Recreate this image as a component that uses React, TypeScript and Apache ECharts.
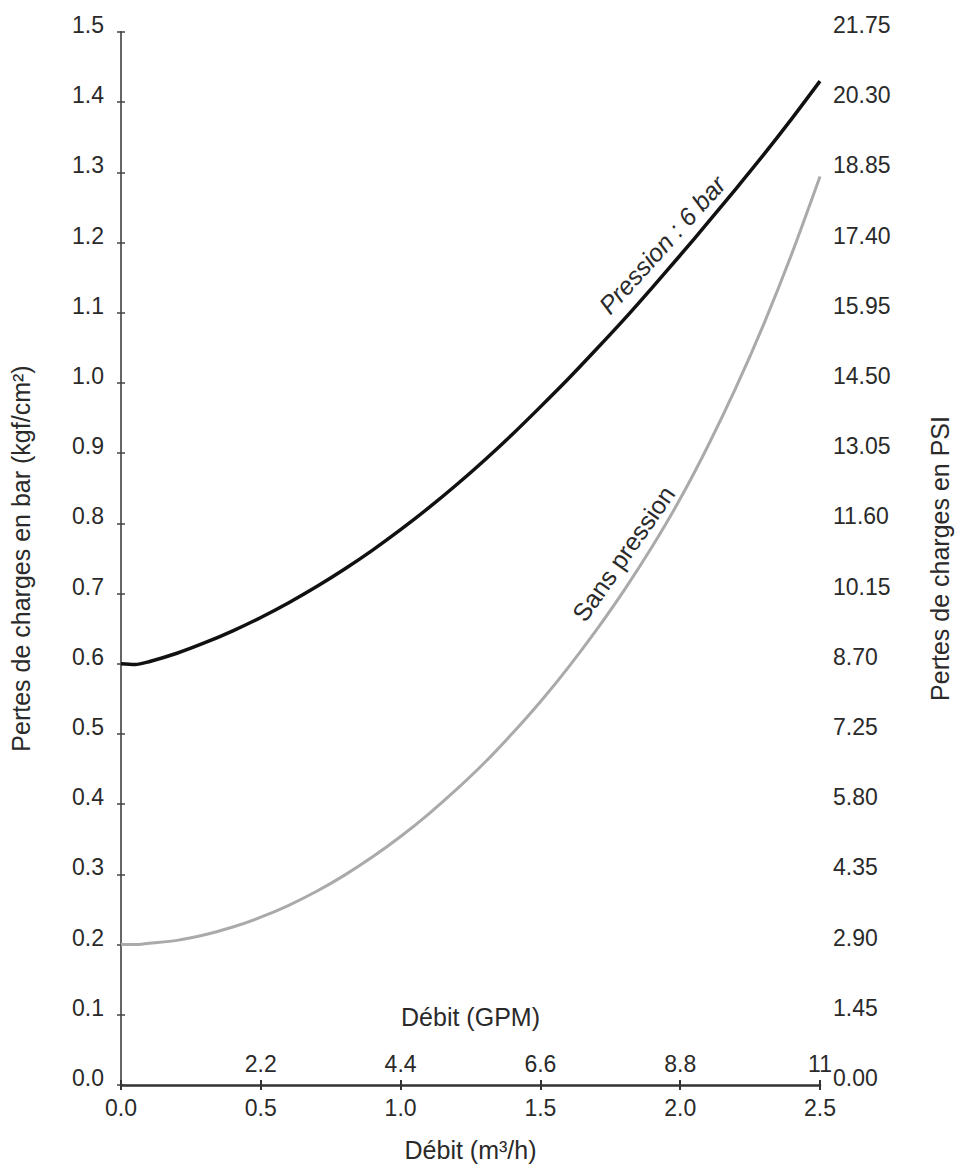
import React, { useEffect, useRef } from "react";
import * as echarts from "echarts";

// Flow in m³/h
const flowM3h = [0, 0.05, 0.1, 0.2, 0.3, 0.4, 0.5, 0.6, 0.7, 0.8, 0.9, 1.0, 1.1, 1.2, 1.3, 1.4, 1.5, 1.6, 1.7, 1.8, 1.9, 2.0, 2.1, 2.2, 2.3, 2.4, 2.5];
// Pressure loss (bar) at 6 bar
const lossPressure6 = [0.600, 0.599, 0.603, 0.615, 0.630, 0.647, 0.666, 0.687, 0.710, 0.735, 0.762, 0.791, 0.822, 0.855, 0.890, 0.927, 0.966, 1.006, 1.048, 1.091, 1.136, 1.182, 1.229, 1.277, 1.326, 1.377, 1.430];
// Pressure loss (bar) without pressure
const lossNoPressure = [0.200, 0.200, 0.202, 0.206, 0.214, 0.225, 0.239, 0.256, 0.276, 0.299, 0.325, 0.354, 0.386, 0.421, 0.459, 0.501, 0.546, 0.595, 0.648, 0.705, 0.767, 0.835, 0.911, 0.994, 1.085, 1.185, 1.294];

const barAxis = { min: 0, max: 1.5, interval: 0.1 };
const psiAxis = { min: 0, max: 21.75, interval: 1.45 };
const m3hAxis = { min: 0, max: 2.5, interval: 0.5 };
const gpmAxis = { min: 0, max: 11, interval: 2.2 };

const seriesNames = ["Pression : 6 bar", "Sans pression"];
// label anchors in data coordinates [m³/h, bar] and angle in degrees
const labelAnchors = [
  { text: "Pression : 6 bar", at: [1.935, 1.197], angle: 48, italic: true },
  { text: "Sans pression", at: [1.797, 0.757], angle: 55, italic: false },
];

const FONT = "'Liberation Sans', Arial, Helvetica, sans-serif";
const TXT = "#2a2a2a";

export default function App() {
  const ref = useRef<HTMLDivElement>(null);
  useEffect(() => {
    if (!ref.current) return;
    const chart = echarts.init(ref.current, undefined, { renderer: "svg" });
    const tickStyle = { color: TXT, fontSize: 23, fontFamily: FONT };
    const titleStyle = { color: TXT, fontSize: 25, fontFamily: FONT };
    chart.setOption({
      animation: false,
      backgroundColor: "#fff",
      textStyle: { fontFamily: FONT },
      grid: { left: 121, right: 135, top: 32, bottom: 80 },
      xAxis: [
        {
          type: "value",
          position: "bottom",
          ...m3hAxis,
          name: "Débit (m³/h)",
          nameLocation: "middle",
          nameGap: 52,
          nameTextStyle: { ...titleStyle },
          axisLine: { show: true, onZero: false, lineStyle: { color: "#333", width: 2.5 } },
          axisTick: { show: true, inside: false, length: 5, lineStyle: { color: "#333", width: 2 } },
          axisLabel: { ...tickStyle, margin: 11, formatter: (v: number) => v.toFixed(1) },
          splitLine: { show: false },
        },
        {
          type: "value",
          position: "bottom",
          ...gpmAxis,
          axisLine: { show: false, onZero: false },
          axisTick: { show: true, inside: true, length: 5, lineStyle: { color: "#333", width: 2 } },
          axisLabel: {
            ...tickStyle,
            inside: true,
            margin: 10,
            formatter: (v: number) => (v === 0 ? "" : String(Math.round(v * 10) / 10)),
          },
          splitLine: { show: false },
        },
      ],
      yAxis: [
        {
          type: "value",
          position: "left",
          ...barAxis,
          name: "Pertes de charges en bar (kgf/cm²)",
          nameLocation: "middle",
          nameRotate: 90,
          nameGap: 88,
          nameTextStyle: { ...titleStyle },
          axisLine: { show: true, lineStyle: { color: "#666", width: 2 } },
          axisTick: { show: true, inside: true, length: 4, lineStyle: { color: "#444", width: 1.5 } },
          axisLabel: {
            ...tickStyle,
            margin: 17,
            verticalAlign: "bottom",
            lineHeight: 14,
            formatter: (v: number) => v.toFixed(1),
          },
          splitLine: { show: false },
        },
        {
          type: "value",
          position: "right",
          ...psiAxis,
          name: "Pertes de charges en PSI",
          nameLocation: "middle",
          nameRotate: 90,
          nameGap: 107,
          nameTextStyle: { ...titleStyle },
          axisLine: { show: true, lineStyle: { color: "#666", width: 2 } },
          axisTick: { show: true, inside: true, length: 4, lineStyle: { color: "#444", width: 1.5 } },
          axisLabel: {
            ...tickStyle,
            margin: 13,
            verticalAlign: "bottom",
            lineHeight: 14,
            formatter: (v: number) => v.toFixed(2),
          },
          splitLine: { show: false },
        },
      ],
      series: [
        {
          name: seriesNames[0],
          type: "line",
          xAxisIndex: 0,
          yAxisIndex: 0,
          showSymbol: false,
          smooth: 0.3,
          data: flowM3h.map((x, i) => [x, lossPressure6[i]]),
          lineStyle: { color: "#111", width: 3.5 },
          z: 3,
        },
        {
          name: seriesNames[1],
          type: "line",
          xAxisIndex: 0,
          yAxisIndex: 0,
          showSymbol: false,
          smooth: 0.3,
          data: flowM3h.map((x, i) => [x, lossNoPressure[i]]),
          lineStyle: { color: "#aaa", width: 3 },
          z: 2,
        },
      ],
    });

    const gpmPos = chart.convertToPixel({ xAxisIndex: 0 }, 1.25) as number;
    const graphics: any[] = labelAnchors.map((l) => {
      const p = chart.convertToPixel({ xAxisIndex: 0, yAxisIndex: 0 }, l.at) as number[];
      return {
        type: "text",
        x: p[0],
        y: p[1],
        rotation: (l.angle * Math.PI) / 180,
        style: {
          text: l.text,
          fill: TXT,
          fontSize: 25,
          fontStyle: l.italic ? "italic" : "normal",
          fontFamily: FONT,
          align: "center",
          verticalAlign: "middle",
        },
      };
    });
    const baseY = chart.convertToPixel({ yAxisIndex: 0 }, 0) as number;
    graphics.push({
      type: "text",
      x: gpmPos,
      y: baseY - 68,
      style: {
        text: "Débit (GPM)",
        fill: TXT,
        fontSize: 25,
        fontFamily: FONT,
        align: "center",
        verticalAlign: "middle",
      },
    });
    chart.setOption({ graphic: graphics });

    return () => chart.dispose();
  }, []);

  return (
    <div
      ref={ref}
      style={{ position: "fixed", left: 0, top: 0, width: 960, height: 1167, background: "#fff" }}
    />
  );
}
